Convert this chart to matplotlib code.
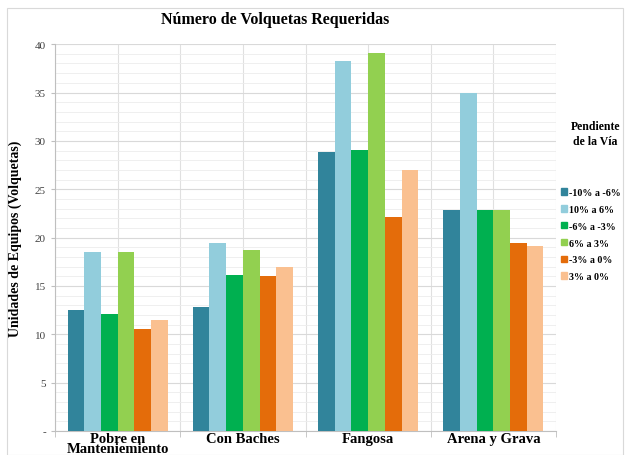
import matplotlib.pyplot as plt
import numpy as np
from matplotlib.patches import Rectangle
from matplotlib.ticker import MultipleLocator, FixedLocator

categories = ["Pobre en\nManteniemiento", "Con Baches", "Fangosa", "Arena y Grava"]
series = ["-10% a -6%", "10% a 6%", "-6% a -3%", "6% a 3%", "-3% a 0%", "3% a 0%"]
values = [
    [12.5, 12.8, 28.9, 22.8],   # -10% a -6%
    [18.5, 19.4, 38.3, 35.0],   # 10% a 6%
    [12.1, 16.1, 29.1, 22.8],   # -6% a -3%
    [18.5, 18.7, 39.1, 22.8],   # 6% a 3%
    [10.5, 16.0, 22.1, 19.4],   # -3% a 0%
    [11.5, 17.0, 27.0, 19.1],   # 3% a 0%
]
colors = ["#31849B", "#92CDDC", "#00B050", "#92D050", "#E46C0A", "#FAC090"]

SERIF = ["Liberation Serif", "DejaVu Serif"]
plt.rcParams["font.family"] = SERIF

fig = plt.figure(figsize=(6.26, 4.56), dpi=100)
ax = fig.add_axes([0.0879, 0.0526, 0.8003, 0.8484])

n = len(series)
group_w = 0.8
bar_w = group_w / n
x = np.arange(len(categories))
for i, (s, vals, c) in enumerate(zip(series, values, colors)):
    ax.bar(x - group_w / 2 + bar_w * (i + 0.5), vals, width=bar_w,
           color=c, label=s, zorder=3)

ax.set_xlim(-0.5, len(categories) - 0.5)
ax.set_ylim(0, 40)
ax.yaxis.set_minor_locator(MultipleLocator(1))
ax.set_yticks(np.arange(0, 41, 5))
ax.set_yticklabels(["-"] + [str(v) for v in range(5, 41, 5)])
ax.xaxis.set_major_locator(FixedLocator(x))
ax.xaxis.set_minor_locator(FixedLocator(np.arange(-0.5, len(categories), 1.0)))
ax.set_xticklabels(categories, fontweight="bold", fontsize=10.5,
                   linespacing=0.66)
ax.tick_params(axis="x", which="major", length=0, pad=1)
ax.tick_params(axis="x", which="minor", length=4, color="#bfbfbf")
ax.tick_params(axis="y", which="major", length=3, color="#bfbfbf",
               labelsize=8, labelcolor="#404040")
ax.tick_params(axis="y", which="minor", length=0)

ax.grid(which="major", axis="y", color="#d9d9d9", lw=0.8, zorder=0)
ax.grid(which="minor", axis="y", color="#ececec", lw=0.6, zorder=0)
for xv in np.arange(-0.5, len(categories), 0.5):
    ax.axvline(xv, color="#e0e0e0", lw=0.8, zorder=0)

for side in ["top", "right"]:
    ax.spines[side].set_visible(False)
ax.spines["left"].set_color("#bfbfbf")
ax.spines["bottom"].set_color("#bfbfbf")

ax.set_ylabel("Unidades de Equipos (Volquetas)", fontweight="bold",
              fontsize=10, labelpad=9)
fig.text(0.439, 0.957, "Número de Volquetas Requeridas", ha="center",
         va="center", fontweight="bold", fontsize=11.5)

fig.text(0.951, 0.705, "Pendiente\nde la Vía", ha="center", va="center",
         fontweight="bold", fontsize=8.5, linespacing=1.3)
handles = [Rectangle((0, 0), 1, 1, color=c) for c in colors]
fig.legend(handles, series, loc="upper left", bbox_to_anchor=(0.881, 0.605),
           frameon=False, handlelength=0.6, handleheight=0.6,
           handletextpad=0.25, labelspacing=0.78,
           prop={"weight": "bold", "size": 7.2, "family": SERIF})

fig.patches.append(Rectangle((0.011, 0.0), 0.985, 0.98, transform=fig.transFigure,
                             fill=False, edgecolor="#d9d9d9", lw=0.8))

fig.savefig("out.png", dpi=100)
